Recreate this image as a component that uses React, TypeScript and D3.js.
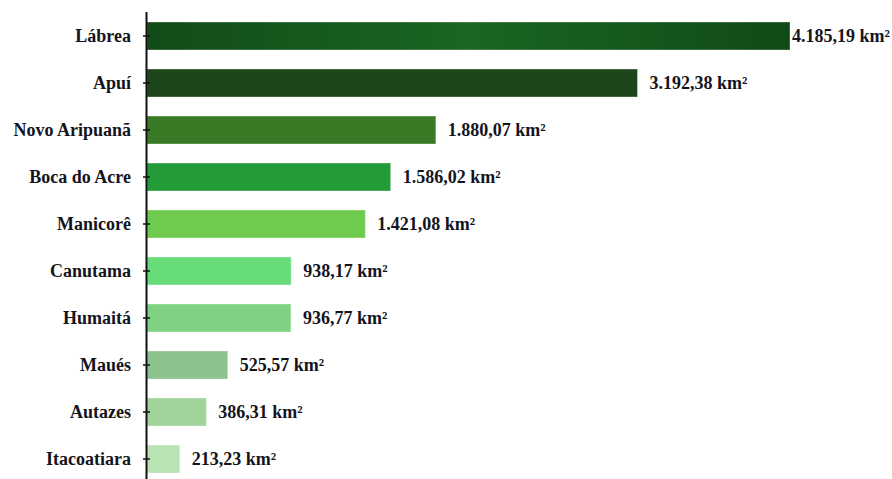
import React from "react";
import * as d3 from "d3";

const categories = ["Lábrea", "Apuí", "Novo Aripuanã", "Boca do Acre", "Manicorê", "Canutama", "Humaitá", "Maués", "Autazes", "Itacoatiara"];
const values = [4185.19, 3192.38, 1880.07, 1586.02, 1421.08, 938.17, 936.77, 525.57, 386.31, 213.23];
const valueLabels = ["4.185,19 km²", "3.192,38 km²", "1.880,07 km²", "1.586,02 km²", "1.421,08 km²", "938,17 km²", "936,77 km²", "525,57 km²", "386,31 km²", "213,23 km²"];
const colors = ["url(#labreaGrad)", "#1c4619", "#3a7a26", "#249b39", "#6ecb50", "#69dc7a", "#7ed282", "#8cc28b", "#a0d49b", "#b8e3b3"];

const W = 892;
const H = 479;
const axisX = 146.5;

export default function App() {
  const y = d3.scaleBand<string>().domain(categories).range([12.5, 482.5]).paddingInner(19 / 47).paddingOuter(19 / 94);
  const x = d3.scaleLinear().domain([0, 4185.19]).range([147, 790]);
  const font = "'Liberation Serif', 'Times New Roman', serif";
  return (
    <svg width={W} height={H} style={{ position: "absolute", left: 0, top: 0, background: "#fff" }}>
      <defs>
        <linearGradient id="labreaGrad" x1="0" x2="1" y1="0" y2="0">
          <stop offset="0" stopColor="#124b18" />
          <stop offset="0.5" stopColor="#1a6622" />
          <stop offset="1" stopColor="#114a17" />
        </linearGradient>
      </defs>
      {categories.map((c, i) => {
        const yy = y(c)!;
        const bw = y.bandwidth();
        const end = x(values[i]);
        const labelW = valueLabels[i].length * 8.2;
        const lx = end + 12 + labelW > W ? end + 2 : end + 12;
        return (
          <g key={c}>
            <rect x={x(0)} y={yy} width={end - x(0)} height={bw} fill={colors[i]} stroke="rgba(255,255,255,0.35)" strokeWidth={1} />
            <text x={lx} y={yy + bw / 2} dy="0.35em" fontFamily={font} fontWeight="bold" fontSize={18} fill="#141420">
              {valueLabels[i]}
            </text>
            <text x={131} y={yy + bw / 2} dy="0.35em" textAnchor="end" fontFamily={font} fontWeight="bold" fontSize={18} fill="#141420">
              {c}
            </text>
            <line x1={143} x2={150} y1={yy + bw / 2} y2={yy + bw / 2} stroke="#111" strokeWidth={1.5} />
          </g>
        );
      })}
      <line x1={axisX} x2={axisX} y1={12} y2={H} stroke="#111" strokeWidth={2} />
    </svg>
  );
}
